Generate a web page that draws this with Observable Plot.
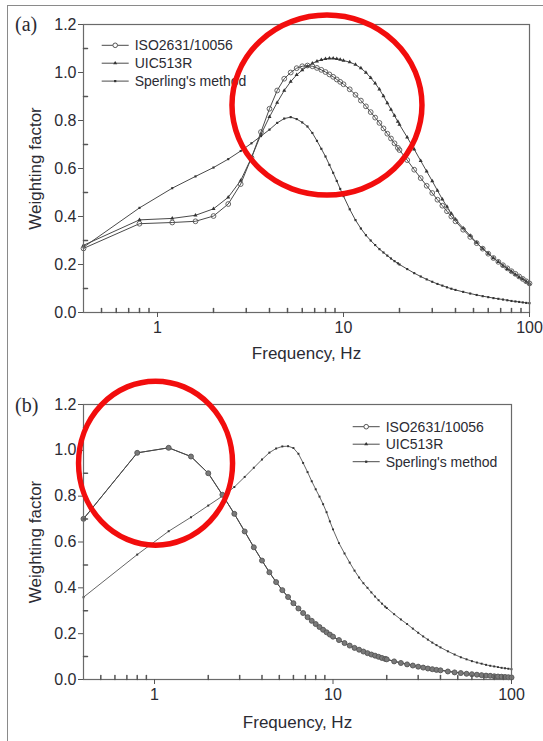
<!DOCTYPE html>
<html><head><meta charset="utf-8">
<script src="https://cdn.jsdelivr.net/npm/d3@7"></script>
<script src="https://cdn.jsdelivr.net/npm/@observablehq/plot@0.6"></script>
<style>
html,body{margin:0;padding:0;background:#fff;}
#page{position:relative;width:543px;height:741px;overflow:hidden;font-family:"Liberation Sans",Arial,sans-serif;}
#page svg{display:block;}
.bt{position:absolute;left:7px;top:5px;width:536px;height:1px;background:#8a8a8a;}
.bl{position:absolute;left:7px;top:5px;width:1px;height:736px;background:#8a8a8a;}
</style></head><body><div id="page"><div class="bt"></div><div class="bl"></div></div>
<script>
// ---- data ----
const freq = [0.4,0.8,1.2,1.6,2.0,2.4,2.8,3.2,3.6,4.0,4.4,4.8,5.2,5.6,6.0,6.4,6.8,7.2,7.6,8.0,8.4,8.8,9.2,9.6,10,
  10.8,11.6,12.4,13.2,14,14.8,15.6,16.4,17.2,18,18.8,19.6,20,
  22,24,26,28,30,32,34,36,38,40,
  44,48,52,56,60,64,68,72,76,80,84,88,92,96,100];

// panel (a)
const isoA = [0.267,0.370,0.375,0.380,0.402,0.452,0.535,0.645,0.752,0.849,0.925,0.974,1.000,1.018,1.026,1.029,1.026,1.019,1.011,1.002,0.992,0.982,0.971,0.961,0.951,
  0.930,0.907,0.883,0.859,0.835,0.812,0.790,0.767,0.745,0.725,0.705,0.686,0.677,
  0.635,0.595,0.560,0.528,0.498,0.470,0.445,0.422,0.400,0.380,
  0.345,0.315,0.289,0.266,0.245,0.227,0.211,0.197,0.184,0.172,0.161,0.150,0.140,0.130,0.121];
const uicA = [0.280,0.386,0.392,0.405,0.432,0.480,0.550,0.645,0.742,0.815,0.875,0.925,0.962,0.990,1.010,1.026,1.038,1.047,1.053,1.057,1.059,1.059,1.057,1.054,1.050,
  1.043,1.033,1.018,1.000,0.978,0.955,0.930,0.902,0.873,0.846,0.820,0.795,0.783,
  0.730,0.680,0.632,0.588,0.548,0.508,0.472,0.441,0.412,0.388,
  0.352,0.320,0.291,0.266,0.246,0.227,0.211,0.196,0.182,0.170,0.158,0.148,0.139,0.129,0.120];
const sperA = [0.272,0.436,0.518,0.567,0.604,0.639,0.673,0.705,0.735,0.762,0.790,0.808,0.814,0.806,0.792,0.775,0.748,0.715,0.682,0.650,0.615,0.582,0.548,0.515,0.485,
  0.430,0.385,0.350,0.322,0.300,0.281,0.264,0.250,0.237,0.225,0.214,0.205,0.200,
  0.181,0.164,0.150,0.138,0.128,0.119,0.112,0.105,0.099,0.094,
  0.086,0.079,0.073,0.068,0.064,0.060,0.057,0.054,0.051,0.048,0.046,0.044,0.042,0.040,0.039];

// panel (b)
const isoB = [0.701,0.989,1.011,0.973,0.900,0.806,0.723,0.646,0.577,0.519,0.468,0.425,0.390,0.360,0.333,0.310,0.290,0.272,0.256,0.242,0.229,0.217,0.206,0.196,0.187,
  0.172,0.159,0.148,0.138,0.130,0.122,0.115,0.109,0.104,0.099,0.094,0.090,0.088,
  0.079,0.072,0.066,0.061,0.056,0.052,0.048,0.045,0.042,0.040,
  0.035,0.031,0.028,0.025,0.023,0.021,0.019,0.017,0.016,0.014,0.013,0.012,0.011,0.010,0.009];
const uicB = [0.701,0.989,1.011,0.973,0.900,0.806,0.723,0.646,0.577,0.519,0.468,0.425,0.390,0.360,0.333,0.310,0.290,0.272,0.256,0.242,0.229,0.217,0.206,0.196,0.187,
  0.172,0.159,0.148,0.138,0.130,0.122,0.115,0.109,0.104,0.099,0.094,0.090,0.088,
  0.080,0.073,0.067,0.062,0.057,0.053,0.049,0.046,0.043,0.041,
  0.036,0.032,0.029,0.026,0.024,0.022,0.020,0.018,0.017,0.015,0.014,0.013,0.012,0.011,0.010];
const sperB = [0.359,0.545,0.647,0.708,0.759,0.800,0.840,0.884,0.924,0.960,0.990,1.008,1.017,1.018,1.010,0.985,0.945,0.905,0.865,0.830,0.798,0.765,0.730,0.690,0.655,
  0.595,0.550,0.510,0.475,0.445,0.420,0.400,0.380,0.362,0.346,0.331,0.318,0.312,
  0.285,0.262,0.242,0.222,0.204,0.188,0.174,0.161,0.150,0.140,
  0.123,0.109,0.097,0.088,0.080,0.074,0.069,0.064,0.060,0.057,0.054,0.051,0.049,0.047,0.045];

const seriesNames = ["ISO2631/10056", "UIC513R", "Sperling's method"];
const yTicks = [0, 0.2, 0.4, 0.6, 0.8, 1.0, 1.2];
const yMinor = [0.1, 0.3, 0.5, 0.7, 0.9, 1.1];
const xTicks = [1, 10, 100];
const xMinor = [0.5,0.6,0.7,0.8,0.9,2,3,4,5,6,7,8,9,20,30,40,50,60,70,80,90];
const panelLabels = ["(a)", "(b)"];
const yLabel = "Weighting factor";
const xLabel = "Frequency, Hz";
// centres of the red highlight rings (data coordinates: Hz, weighting)
const focusA = [8.2, 0.862];
const focusB = [1.02, 0.942];

// ---- drawing ----
const FONT = "'Liberation Sans', Arial, sans-serif";
const INK = "#4a4a4a";
const tickShape = {draw(context, l) { context.moveTo(0, 0); context.lineTo(0, -l); }};

function panel(cfg) {
  const rows = vals => freq.map((f, i) => ({f, v: vals[i]}));
  const dIso = rows(cfg.iso), dUic = rows(cfg.uic), dSper = rows(cfg.sper);
  const plot = Plot.plot({
    width: 543, height: cfg.height,
    marginTop: cfg.marginTop, marginRight: cfg.marginRight, marginBottom: cfg.marginBottom, marginLeft: 83,
    style: {fontFamily: FONT, background: "transparent", color: "#2b2b33", overflow: "visible"},
    x: {type: "log", domain: [0.4, 100]},
    y: {domain: [0, 1.2]},
    marks: [
      Plot.line(dSper, {x: "f", y: "v", stroke: cfg.sperStroke, strokeWidth: 1}),
      Plot.dot(dSper, {x: "f", y: "v", symbol: "square", r: cfg.sperR, fill: "#333", stroke: "none"}),
      Plot.line(dUic, {x: "f", y: "v", stroke: INK, strokeWidth: 1}),
      Plot.dot(dUic, {x: "f", y: "v", symbol: "triangle", r: cfg.uicR, fill: "#333", stroke: "none"}),
      Plot.line(dIso, {x: "f", y: "v", stroke: INK, strokeWidth: 1}),
      Plot.dot(dIso, {x: "f", y: "v", r: cfg.isoR, stroke: "#555", strokeWidth: 0.9, fill: cfg.isoFill}),
      Plot.frame({stroke: "#6a6a6a", strokeWidth: 1.2}),
      Plot.axisY({ticks: yTicks, tickSize: 5, tickPadding: 2, tickFormat: d3.format(".1f"), fontSize: 16, label: null, stroke: "#555"}),
      Plot.axisX({ticks: xTicks, tickSize: 5, tickPadding: 4, tickFormat: d => String(d), fontSize: 16, label: null, stroke: "#555"}),
      Plot.vector(yMinor, {y: d => d, frameAnchor: "left", length: 4, rotate: 90, anchor: "start", shape: tickShape, stroke: "#555"}),
      Plot.vector(xMinor, {x: d => d, frameAnchor: "bottom", length: 4, rotate: 0, anchor: "start", shape: tickShape, stroke: "#555"}),
      Plot.text([yLabel], {text: d => d, frameAnchor: "left", textAnchor: "middle", lineAnchor: "middle", rotate: -90, dx: -48, fontSize: 17, fill: "#2b2b33"}),
      Plot.text([xLabel], {text: d => d, frameAnchor: "bottom", textAnchor: "middle", lineAnchor: "middle", dy: cfg.xLabelDy, fontSize: 17, fill: "#2b2b33"})
    ]
  });

  const svg = d3.select(plot);
  // panel letter
  svg.append("text").attr("x", 15).attr("y", cfg.letterY).attr("text-anchor", "start")
    .attr("font-family", "'Liberation Serif', 'Times New Roman', serif").attr("font-size", 20).attr("fill", "#2b2b33")
    .text(cfg.letter);

  // legend
  const lg = svg.append("g").attr("font-family", FONT).attr("font-size", 14).attr("fill", "#2b2b33").attr("text-anchor", "start");
  const sym = [d3.symbolCircle, d3.symbolTriangle, d3.symbolSquare];
  seriesNames.forEach((name, i) => {
    const y = cfg.legendY + i * cfg.legendStep;
    const x0 = cfg.legendX;
    lg.append("line").attr("x1", x0).attr("x2", x0 + 27).attr("y1", y).attr("y2", y).attr("stroke", INK).attr("stroke-width", 1);
    if (i === 0) {
      lg.append("circle").attr("cx", x0 + 13.5).attr("cy", y).attr("r", 2.3).attr("fill", "white").attr("stroke", "#555");
    } else {
      lg.append("path").attr("transform", `translate(${x0 + 13.5},${y})`)
        .attr("d", d3.symbol(sym[i], i === 1 ? 7 : 5)()).attr("fill", "#333");
    }
    lg.append("text").attr("x", x0 + 33).attr("y", y).attr("dy", "0.35em").attr("text-anchor", "start").text(name);
  });

  // red highlight ring, placed through the plot's own scales
  const sx = plot.scale("x"), sy = plot.scale("y");
  svg.append("ellipse")
    .attr("cx", sx.apply(cfg.focus[0])).attr("cy", sy.apply(cfg.focus[1]))
    .attr("rx", cfg.ringRx).attr("ry", cfg.ringRy)
    .attr("fill", "none").attr("stroke", "#f20d0d").attr("stroke-width", 5.5);

  return plot;
}

const page = document.getElementById("page");
page.appendChild(panel({
  iso: isoA, uic: uicA, sper: sperA,
  height: 370, marginTop: 24, marginRight: 14, marginBottom: 58, xLabelDy: 41,
  letter: panelLabels[0], letterY: 31,
  legendX: 101.7, legendY: 45.3, legendStep: 17.9,
  focus: focusA, ringRx: 95, ringRy: 90,
  isoR: 2.4, isoFill: "none", uicR: 1.5, sperR: 1.2, sperStroke: INK
}));
page.appendChild(panel({
  iso: isoB, uic: uicB, sper: sperB,
  height: 371, marginTop: 34, marginRight: 32, marginBottom: 62, xLabelDy: 43,
  letter: panelLabels[1], letterY: 42,
  legendX: 352.7, legendY: 56.7, legendStep: 17.5,
  focus: focusB, ringRx: 77, ringRy: 82,
  isoR: 2.5, isoFill: "#7a7a7a", uicR: 1.5, sperR: 1.1, sperStroke: "#666"
}));
</script>
</body></html>
